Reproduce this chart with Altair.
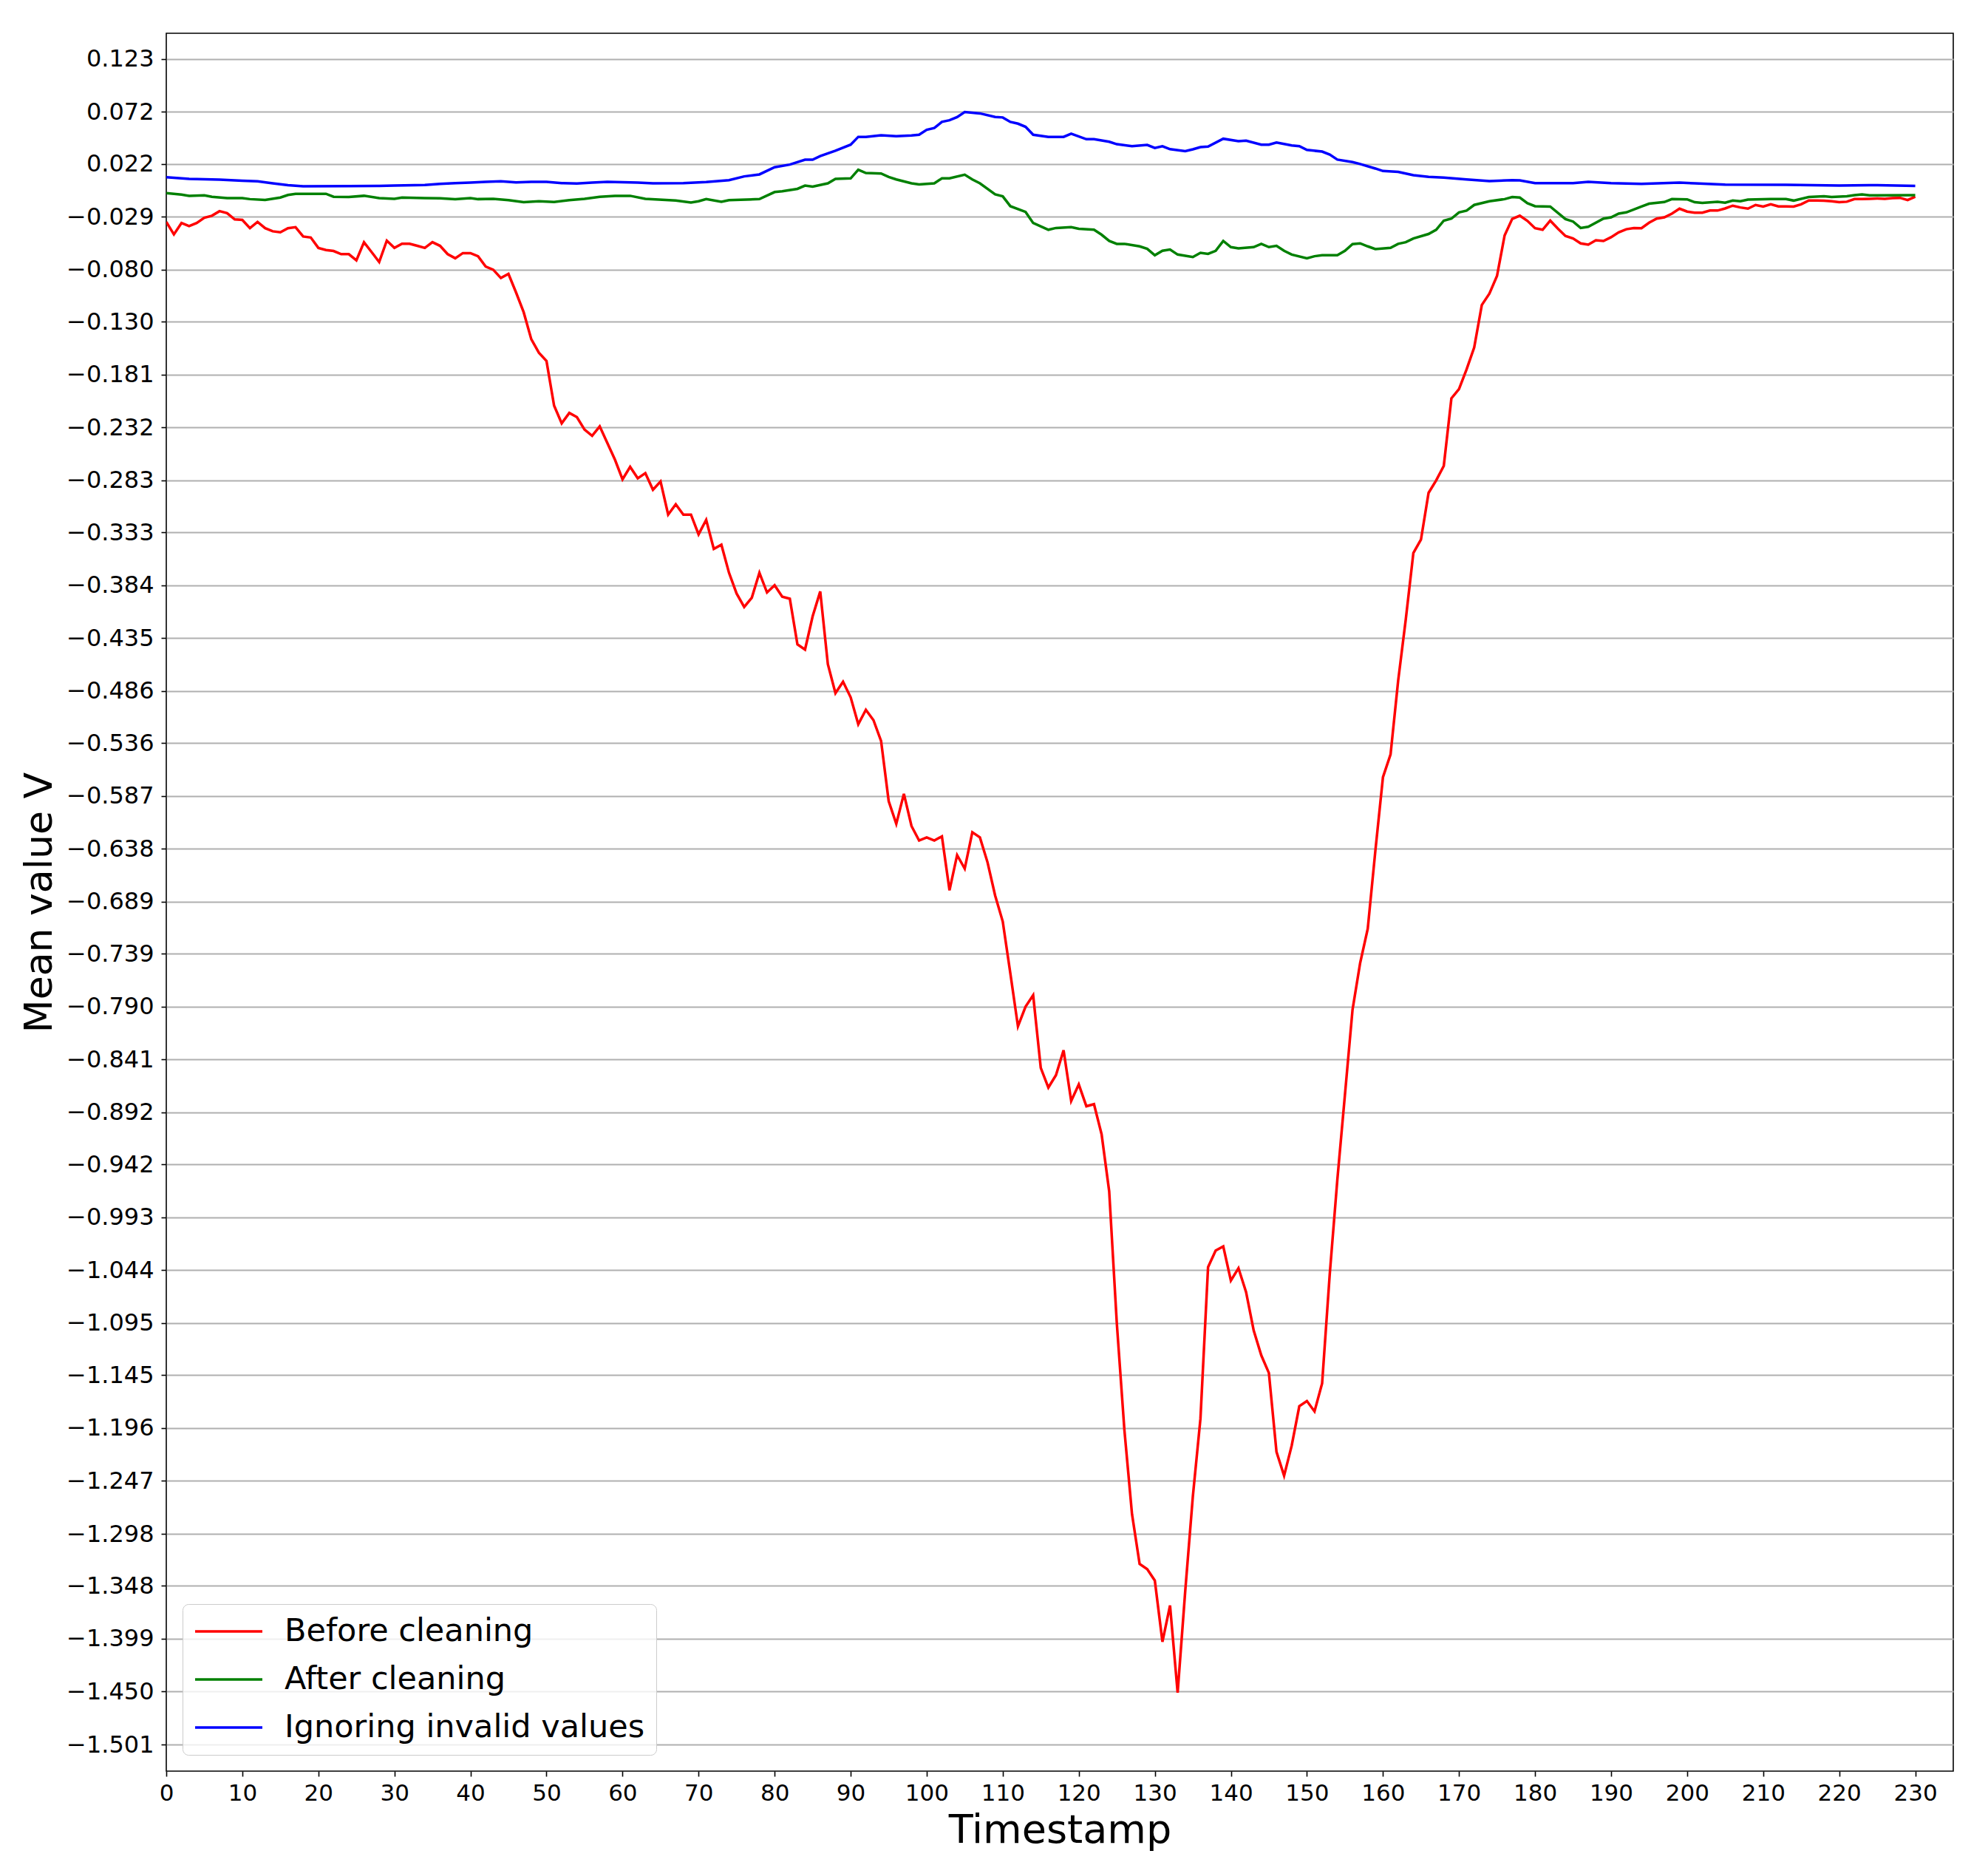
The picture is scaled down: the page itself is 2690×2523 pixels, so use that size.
import altair as alt
import pandas as pd

# ---- data ----
red_t = list(range(0, 231))
red_v = [
    -0.034, -0.046, -0.035, -0.038, -0.035, -0.030, -0.028, -0.0236, -0.0255, -0.0315,
    -0.032, -0.040, -0.034, -0.040, -0.043, -0.044, -0.040, -0.039, -0.048, -0.049,
    -0.059, -0.061, -0.062, -0.065, -0.065, -0.071, -0.0535, -0.063, -0.0726, -0.052,
    -0.059, -0.055, -0.055, -0.057, -0.059, -0.0535, -0.057, -0.065, -0.069, -0.064,
    -0.064, -0.067, -0.077, -0.080, -0.088, -0.084, -0.102, -0.121, -0.147, -0.160,
    -0.168, -0.211, -0.228, -0.218, -0.222, -0.234, -0.240, -0.231, -0.247, -0.263,
    -0.282, -0.270, -0.281, -0.276, -0.292, -0.284, -0.316, -0.306, -0.316, -0.316,
    -0.335, -0.321, -0.349, -0.345, -0.372, -0.392, -0.405, -0.396, -0.372, -0.391,
    -0.384, -0.395, -0.397, -0.441, -0.446, -0.414, -0.390, -0.460, -0.488, -0.477,
    -0.492, -0.518, -0.504, -0.514, -0.534, -0.592, -0.614, -0.585, -0.616, -0.630,
    -0.627, -0.630, -0.626, -0.678, -0.644, -0.657, -0.622, -0.627, -0.651, -0.683,
    -0.708, -0.758, -0.809, -0.790, -0.779, -0.849, -0.868, -0.856, -0.832, -0.881,
    -0.865, -0.886, -0.884, -0.913, -0.968, -1.095, -1.198, -1.279, -1.327, -1.332,
    -1.343, -1.402, -1.367, -1.451, -1.353, -1.262, -1.187, -1.041, -1.025, -1.021,
    -1.054, -1.042, -1.065, -1.102, -1.126, -1.143, -1.219, -1.242, -1.213, -1.175,
    -1.170, -1.180, -1.153, -1.048, -0.957, -0.875, -0.793, -0.748, -0.715, -0.640,
    -0.569, -0.547, -0.476, -0.417, -0.353, -0.340, -0.295, -0.283, -0.269, -0.204,
    -0.195, -0.176, -0.155, -0.114, -0.103, -0.086, -0.047, -0.031, -0.028, -0.033,
    -0.040, -0.0415, -0.0327, -0.0404, -0.0475, -0.0499, -0.0547, -0.0559, -0.0516, -0.0523,
    -0.0487, -0.044, -0.041, -0.0398, -0.040, -0.0347, -0.0308, -0.0296, -0.026, -0.0212,
    -0.024, -0.025, -0.025, -0.023, -0.023, -0.021, -0.0183, -0.020, -0.0212, -0.0176,
    -0.0192, -0.0169, -0.019, -0.019, -0.0192, -0.017, -0.0133, -0.0133, -0.0135, -0.014,
    -0.015, -0.0145, -0.012, -0.012, -0.0117, -0.0113, -0.0117, -0.011, -0.0108, -0.0129,
    -0.0097,
]

green_t = [0, 2, 3, 5, 6, 8, 10, 11, 13, 15, 16, 17, 21, 22, 24, 26, 28, 30, 31, 34,
           36, 38, 40, 41, 43, 45, 47, 49, 51, 53, 55, 57, 59, 61, 63, 67, 69, 70, 71, 73,
           74, 78, 80, 81, 83, 84, 85, 87, 88, 90, 91, 92, 94, 95, 96, 98, 99, 101, 102, 103,
           105, 106, 107, 109, 110, 111, 113, 114, 116, 117, 119, 120, 122, 123, 124, 125, 126, 128, 129, 130,
           131, 132, 133, 135, 136, 137, 138, 139, 140, 141, 143, 144, 145, 146, 147, 148, 150, 151, 152, 154,
           155, 156, 157, 158, 159, 161, 162, 163, 164, 166, 167, 168, 169, 170, 171, 172, 174, 176, 177, 178,
           179, 180, 182, 184, 185, 186, 187, 189, 190, 191, 192, 194, 195, 197, 198, 200, 201, 202, 204, 205,
           206, 207, 208, 211, 213, 214, 216, 218, 219, 221, 222, 223, 224, 230]
green_v = [-0.0062, -0.0076, -0.0088, -0.0083, -0.0097, -0.011, -0.011, -0.012, -0.0128, -0.0105,
           -0.008, -0.0069, -0.0069, -0.0097, -0.0099, -0.0088, -0.011, -0.0117, -0.0105, -0.011,
           -0.0112, -0.012, -0.011, -0.012, -0.0117, -0.013, -0.015, -0.014, -0.0148, -0.013,
           -0.0117, -0.0097, -0.0088, -0.0088, -0.0117, -0.0134, -0.0153, -0.014, -0.0119, -0.0146,
           -0.013, -0.012, -0.0052, -0.0045, -0.0021, 0.001, 0.000, 0.0032, 0.0075, 0.008,
           0.0163, 0.0132, 0.0127, 0.0094, 0.007, 0.0032, 0.0022, 0.0032, 0.008, 0.008,
           0.0115, 0.007, 0.0032, -0.0074, -0.0093, -0.0188, -0.0243, -0.035, -0.0415, -0.0398,
           -0.039, -0.0405, -0.0415, -0.0463, -0.0523, -0.0551, -0.0551, -0.0575, -0.0599, -0.0661,
           -0.0618, -0.0606, -0.0654, -0.0678, -0.0637, -0.0647, -0.0618, -0.0523, -0.0582, -0.0594,
           -0.0582, -0.0551, -0.0582, -0.057, -0.0618, -0.0654, -0.069, -0.067, -0.0661, -0.0661,
           -0.0618, -0.0553, -0.0546, -0.0575, -0.0601, -0.0589, -0.0551, -0.0535, -0.0499, -0.0456,
           -0.0415, -0.0327, -0.0308, -0.0248, -0.0231, -0.0176, -0.014, -0.012, -0.010, -0.0105,
           -0.0159, -0.0188, -0.0192, -0.0312, -0.0336, -0.0398, -0.0386, -0.0308, -0.0296, -0.026,
           -0.0248, -0.0192, -0.0164, -0.0148, -0.012, -0.0122, -0.015, -0.0157, -0.0146, -0.0155,
           -0.0134, -0.014, -0.0124, -0.012, -0.012, -0.0134, -0.010, -0.0093, -0.010, -0.0093,
           -0.0082, -0.0074, -0.0084, -0.0081]

blue_t = [0, 3, 7, 10, 12, 14, 16, 18, 24, 28, 30, 34, 36, 38, 40, 42, 44, 46, 48, 50,
          52, 54, 56, 58, 62, 64, 68, 71, 74, 76, 78, 80, 82, 84, 85, 86, 88, 90, 91, 92,
          94, 96, 98, 99, 100, 101, 102, 103, 104, 105, 107, 109, 110, 111, 112, 113, 114, 116, 118, 119,
          121, 122, 124, 125, 127, 129, 130, 131, 132, 134, 135, 136, 137, 139, 141, 142, 144, 145, 146, 148,
          149, 150, 152, 153, 154, 156, 157, 159, 160, 162, 164, 166, 168, 171, 174, 177, 178, 180, 185, 187,
          190, 194, 199, 201, 205, 213, 220, 224, 230]
blue_v = [0.0091, 0.0075, 0.0067, 0.0058, 0.0051, 0.0032, 0.0015, 0.0003, 0.0005, 0.0008,
          0.001, 0.0017, 0.0027, 0.0034, 0.0039, 0.0046, 0.0051, 0.0042, 0.0046, 0.0046,
          0.0034, 0.003, 0.0039, 0.0046, 0.0039, 0.0032, 0.0034, 0.0044, 0.0063, 0.0099,
          0.0118, 0.0187, 0.0213, 0.026, 0.026, 0.0295, 0.0347, 0.0405, 0.048, 0.048,
          0.0495, 0.0486, 0.0493, 0.050, 0.0548, 0.0565, 0.0624, 0.064, 0.067, 0.072,
          0.0706, 0.0672, 0.0667, 0.0624, 0.0607, 0.0577, 0.050, 0.048, 0.048, 0.051,
          0.0457, 0.0457, 0.0433, 0.0409, 0.039, 0.0402, 0.0373, 0.039, 0.0361, 0.0342,
          0.036, 0.0381, 0.0386, 0.0462, 0.0438, 0.0443, 0.0405, 0.0405, 0.0426, 0.0397,
          0.039, 0.0354, 0.0338, 0.0309, 0.0261, 0.0237, 0.0218, 0.0175, 0.0151, 0.0142,
          0.011, 0.0094, 0.0087, 0.007, 0.0053, 0.0063, 0.006, 0.0034, 0.0034, 0.0046,
          0.0034, 0.0027, 0.0039, 0.0032, 0.002, 0.0018, 0.0011, 0.0015, 0.0008]

series_names = ["Before cleaning", "After cleaning", "Ignoring invalid values"]
series_colors = ["#ff0000", "#008000", "#0000ff"]

y_tick_values = [0.123, 0.072, 0.022, -0.029, -0.080, -0.130, -0.181, -0.232, -0.283, -0.333,
                 -0.384, -0.435, -0.486, -0.536, -0.587, -0.638, -0.689, -0.739, -0.790, -0.841,
                 -0.892, -0.942, -0.993, -1.044, -1.095, -1.145, -1.196, -1.247, -1.298, -1.348,
                 -1.399, -1.450, -1.501]
x_tick_values = list(range(0, 231, 10))

x_domain = [0, 235]
y_domain = [-1.5266, 0.1478]

# ---- build table ----
frames = []
for name, ts, vs in [(series_names[0], red_t, red_v),
                     (series_names[1], green_t, green_v),
                     (series_names[2], blue_t, blue_v)]:
    frames.append(pd.DataFrame({"t": ts, "v": vs, "series": name}))
df = pd.concat(frames, ignore_index=True)

FONT = "DejaVu Sans"
W, H = 2418, 2351

color = alt.Color(
    "series:N",
    scale=alt.Scale(domain=series_names, range=series_colors),
    legend=alt.Legend(
        title=None,
        orient="bottom-left",
        offset=22,
        symbolType="stroke",
        symbolSize=8281,
        symbolStrokeWidth=3.4,
        labelFontSize=43,
        labelFont=FONT,
        labelColor="black",
        labelOffset=28,
        labelLimit=800,
        clipHeight=44,
        rowPadding=21,
        padding=15,
        strokeColor="#cccccc",
        fillColor="rgba(255,255,255,0.8)",
        cornerRadius=8,
    ),
)

x_enc = alt.X(
    "t:Q",
    scale=alt.Scale(domain=x_domain, nice=False, zero=False),
    axis=alt.Axis(
        values=x_tick_values,
        format="d",
        grid=False,
        domain=False,
        ticks=True,
        tickSize=7,
        tickWidth=1.6,
        tickColor="black",
        labelFontSize=31,
        labelFont=FONT,
        labelColor="black",
        labelPadding=8,
        labelFlush=False,
        title="Timestamp",
        titleFont=FONT,
        titleFontSize=54,
        titleFontWeight="normal",
        titleColor="black",
        titleX=W / 2,
        titleY=96,
        titleAlign="center",
        titleBaseline="alphabetic",
    ),
)

y_enc = alt.Y(
    "v:Q",
    scale=alt.Scale(domain=y_domain, nice=False, zero=False),
    axis=alt.Axis(
        values=y_tick_values,
        format=".3f",
        grid=True,
        gridColor="#b0b0b0",
        gridWidth=1.8,
        domain=False,
        ticks=True,
        tickSize=7,
        tickWidth=1.6,
        tickColor="black",
        labelFontSize=32,
        labelFont=FONT,
        labelColor="black",
        labelPadding=10,
        labelFlush=False,
        labelOverlap=False,
        title="Mean value V",
        titleFont=FONT,
        titleFontSize=52,
        titleFontWeight="normal",
        titleColor="black",
        titleAngle=270,
        titleX=-156,
        titleY=H / 2,
        titleAlign="center",
        titleBaseline="alphabetic",
    ),
)

layers = []
for name in series_names:
    layers.append(
        alt.Chart(df)
        .transform_filter(alt.datum.series == name)
        .mark_line(strokeWidth=3.5, clip=True)
        .encode(x=x_enc, y=y_enc, color=color, order=alt.Order("t:Q"))
    )

chart = (
    alt.layer(*layers)
    .properties(
        width=W,
        height=H,
        autosize=alt.AutoSizeParams(type="none"),
        padding={"left": 217, "top": 37, "right": 39, "bottom": 119},
        background="white",
    )
    .configure_view(stroke="black", strokeWidth=1.6)
)

chart.save("out.html", embed_options={"renderer": "svg", "actions": False})
